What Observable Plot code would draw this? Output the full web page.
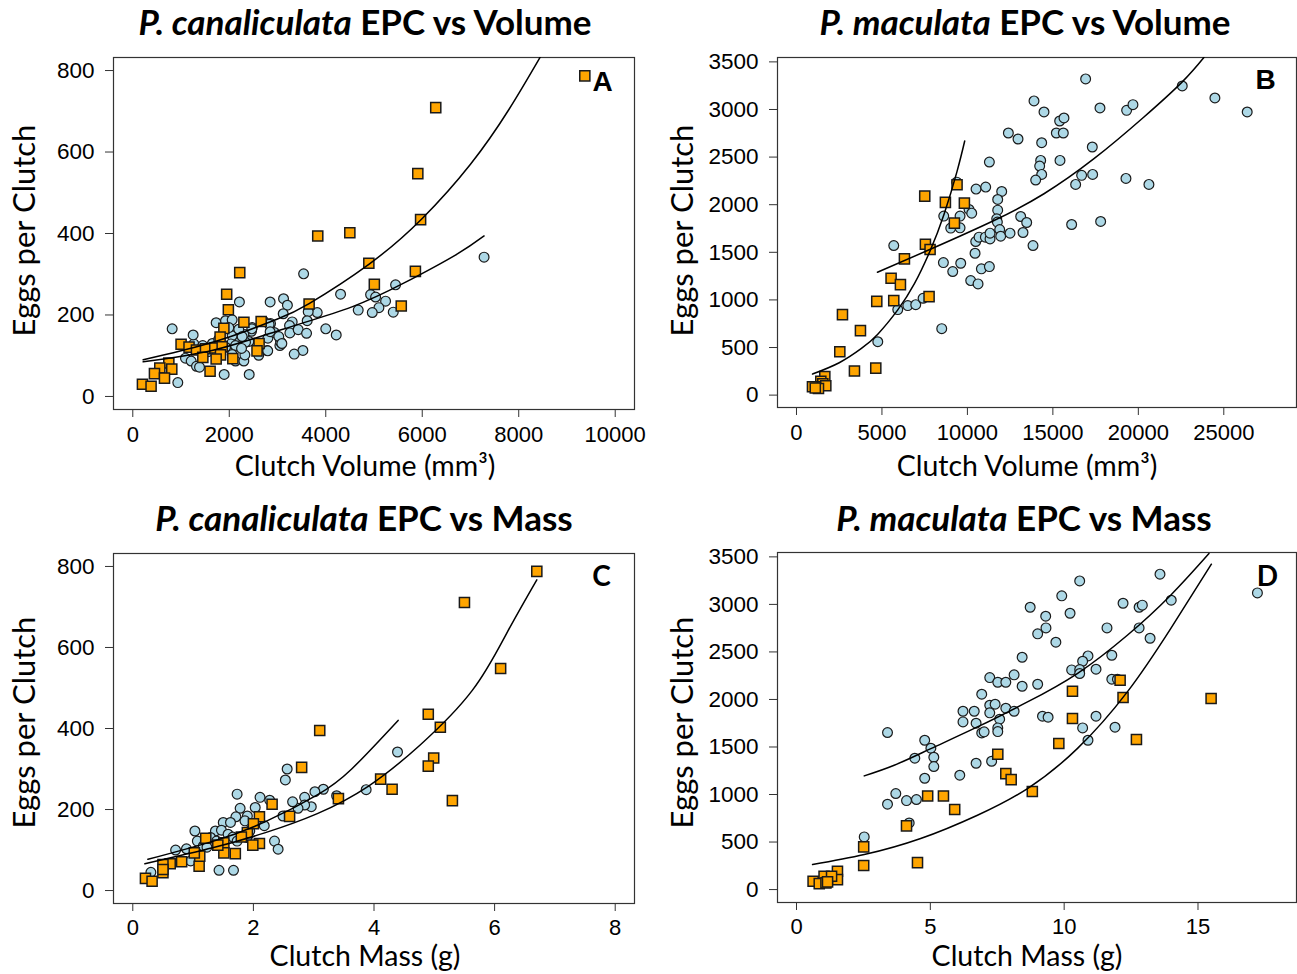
<!DOCTYPE html>
<html><head><meta charset="utf-8">
<script src="https://cdn.jsdelivr.net/npm/d3@7"></script>
<script src="https://cdn.jsdelivr.net/npm/@observablehq/plot@0.6"></script>
<style>
body{margin:0;background:#fff;}
#root{position:relative;width:1297px;height:974px;overflow:hidden;background:#fff;}
.title{position:absolute;font-family:Lato,sans-serif;font-weight:bold;font-size:35px;white-space:nowrap;transform:translateX(-50%);color:#000;line-height:1;}
</style></head><body><div id="root"></div>
<script>
// ---------- Panel A: P. canaliculata, eggs vs clutch volume ----------
const canalVolSquares = [[9370,787],[6280,709],[5908,547],[5966,434],[3834,394],[4499,402],[4893,327],[5858,307],[5007,275],[5565,222],[3655,227],[2217,304],[1946,251],[1981,213],[2303,182],[2661,184],[1888,167],[1810,146],[2618,130],[2575,112],[2074,93],[1602,62],[1001,128],[1166,121],[1320,114],[1507,117],[1700,119],[1853,122],[1452,96],[1818,102],[1728,92],[747,82],[808,67],[560,70],[449,56],[657,45],[200,30],[379,25]];
const canalVolCircles = [[7282,342],[3541,301],[4307,251],[5447,274],[4929,250],[5033,244],[5240,234],[4673,212],[5102,218],[4964,206],[5399,207],[4000,166],[4217,151],[3526,113],[3346,104],[2210,232],[2847,232],[3125,240],[3205,224],[3118,203],[3823,206],[3636,208],[3615,186],[3304,183],[3249,174],[3256,156],[3429,164],[3602,155],[2855,179],[2800,143],[3049,125],[3062,134],[2786,113],[2613,104],[2406,135],[2461,160],[2475,169],[2302,153],[2337,133],[2198,161],[2129,143],[2060,149],[2032,129],[2129,125],[1922,121],[2060,103],[2129,87],[2302,87],[2323,102],[2254,118],[1894,54],[2413,54],[933,34],[1092,94],[1210,87],[1320,74],[1383,72],[1265,129],[1251,151],[816,166],[1728,181],[1922,186],[2060,188],[1991,169],[2718,184],[2826,177],[2933,157],[2847,159],[2196,165],[2468,166],[2267,147],[3026,147],[3090,130],[2611,101],[2797,112],[1560,110],[1650,130],[1780,140],[1450,125]];
const canalVolFitSquares = [[215,90],[1000,112],[2000,146],[3000,190],[3655,228],[4900,325],[6000,437],[7000,570],[7800,705],[8480,840]];
const canalVolFitCircles = [[215,85],[1681,114],[3112,165],[4542,220],[5615,278],[6688,347],[7282,394]];
const volTicksA = [0,2000,4000,6000,8000,10000];
const eggTicksCanal = [0,200,400,600,800];

// ---------- Panel B: P. maculata, eggs vs clutch volume ----------
const macVolSquares = [[9394,2209],[7504,2090],[8712,2024],[9823,2017],[9238,1806],[7543,1585],[7816,1529],[6315,1431],[5535,1227],[6081,1161],[4697,985],[5691,992],[7757,1035],[2690,845],[3742,677],[2534,456],[3391,253],[4639,284],[1657,196],[1423,144],[1540,120],[1189,88],[935,88],[1715,98],[1286,70],[1100,75]];
const macVolCircles = [[16917,3321],[13896,3090],[14481,2974],[17756,3016],[19315,2991],[19685,3051],[22570,3247],[24480,3121],[26370,2974],[15397,2879],[15650,2911],[12396,2753],[12961,2690],[15202,2753],[15611,2753],[14345,2651],[17307,2606],[11285,2448],[14286,2465],[14228,2406],[15417,2465],[14345,2318],[13994,2259],[16683,2308],[16332,2213],[17327,2318],[19276,2276],[20620,2213],[16098,1792],[17795,1824],[10505,2164],[11070,2185],[12006,2139],[11772,2055],[11772,1943],[11714,1852],[11753,1817],[11889,1739],[11947,1669],[12493,1701],[13117,1876],[13468,1813],[13253,1708],[13838,1571],[10096,1950],[10252,1911],[8615,1880],[9570,1880],[9024,1754],[9570,1757],[10486,1613],[10681,1659],[11051,1659],[11324,1641],[11324,1701],[10447,1490],[8595,1392],[9609,1385],[9141,1298],[10817,1326],[11285,1350],[10193,1203],[10622,1168],[5691,1571],[8498,698],[4756,561],[5925,898],[6510,940],[6977,950],[7406,1017],[9375,2237]];
const macVolFitSquares = [[936,221],[2500,340],[3800,490],[4756,640],[5925,895],[6900,1170],[7816,1515],[8634,1900],[9394,2350],[9842,2669]];
const macVolFitCircles = [[4736,1290],[7796,1529],[11557,1834],[14481,2115],[17405,2483],[20329,2921],[22570,3290],[23836,3546]];
const volTicksB = [0,5000,10000,15000,20000,25000];
const eggTicksMac = [0,500,1000,1500,2000,2500,3000,3500];

// ---------- Panel C: P. canaliculata, eggs vs clutch mass ----------
const canalMassSquares = [[6.70,788],[5.50,711],[6.10,548],[4.90,435],[5.10,403],[3.10,395],[4.99,327],[4.90,307],[2.80,304],[4.11,275],[4.30,250],[5.30,222],[3.41,227],[2.31,213],[2.60,183],[2.10,182],[1.90,143],[2.00,165],[2.10,116],[1.99,112],[1.80,132],[1.70,91],[1.51,118],[1.51,93],[1.41,112],[1.21,129],[1.10,60],[1.11,85],[1.02,93],[0.81,71],[0.62,66],[0.50,64],[0.50,44],[0.50,52],[0.21,30],[0.32,23]];
const canalMassCircles = [[4.39,342],[3.87,249],[3.38,234],[3.16,250],[3.02,244],[2.85,230],[2.96,207],[2.85,211],[2.74,203],[2.65,219],[2.49,184],[2.56,300],[2.53,273],[2.35,122],[2.41,102],[2.27,223],[2.11,230],[1.73,238],[1.78,203],[2.03,205],[1.90,184],[1.71,182],[1.50,168],[1.62,168],[2.18,160],[1.86,172],[1.37,147],[1.47,149],[1.03,147],[1.07,122],[1.17,110],[1.29,131],[1.58,139],[1.66,132],[0.89,103],[0.71,100],[0.96,73],[1.43,50],[1.67,50],[0.30,45],[1.94,147],[1.73,122],[1.89,131],[1.39,122],[1.23,107],[1.51,106]];
const canalMassFitSquares = [[0.20,66],[1.34,106],[2.20,143],[3.06,190],[3.91,258],[4.77,360],[5.63,494],[6.20,635],[6.70,767]];
const canalMassFitCircles = [[0.25,77],[1.34,122],[2.20,170],[3.06,236],[3.63,300],[4.40,420]];
const massTicksC = [0,2,4,6,8];

// ---------- Panel D: P. maculata, eggs vs clutch mass ----------
const macMassSquares = [[15.49,2010],[12.09,2202],[12.20,2020],[10.31,2087],[10.31,1799],[12.70,1578],[9.80,1536],[7.52,1424],[7.82,1220],[8.02,1157],[8.81,1031],[4.90,985],[5.49,985],[5.91,842],[4.11,670],[2.51,449],[2.51,253],[4.52,284],[0.62,88],[1.03,140],[1.53,193],[1.53,105],[0.85,63],[1.10,70],[1.31,140],[1.16,81]];
const macMassCircles = [[17.22,3121],[13.58,3318],[10.58,3247],[9.91,3090],[8.73,2970],[10.22,2907],[9.31,2876],[9.32,2753],[9.01,2690],[9.69,2602],[12.20,3012],[12.80,2970],[12.92,2992],[14.00,3044],[11.60,2753],[12.80,2753],[13.21,2644],[8.43,2444],[10.89,2458],[10.69,2402],[11.78,2465],[10.28,2311],[10.58,2315],[10.58,2273],[11.19,2318],[11.78,2213],[11.99,2213],[7.22,2230],[7.52,2181],[7.82,2181],[8.13,2259],[8.43,2139],[9.01,2160],[6.92,2055],[7.22,1939],[7.42,1950],[7.22,1859],[7.82,1908],[8.13,1876],[7.59,1792],[6.22,1876],[6.64,1876],[6.22,1764],[6.71,1750],[6.92,1648],[7.01,1659],[7.52,1701],[7.52,1662],[9.19,1824],[9.40,1813],[11.19,1824],[10.69,1701],[10.89,1571],[11.90,1708],[3.40,1652],[4.79,1571],[5.02,1487],[5.13,1392],[4.42,1382],[5.13,1294],[6.71,1329],[7.29,1350],[4.79,1171],[6.10,1203],[3.71,1010],[3.40,898],[4.11,936],[4.48,947],[4.21,701],[2.53,554]];
const macMassFitSquares = [[0.60,263],[2.53,368],[4.64,537],[6.76,782],[8.63,1063],[10.49,1483],[12.36,2080],[13.98,2746],[15.50,3423]];
const macMassFitCircles = [[2.53,1196],[3.65,1308],[5.02,1483],[6.76,1711],[8.63,1974],[10.49,2273],[12.36,2676],[13.98,3097],[15.41,3535]];
const massTicksD = [0,5,10,15];

const titles = [
  {sp: "P. canaliculata", rest: " EPC vs Volume", cx: 365, top: 4},
  {sp: "P. maculata", rest: " EPC vs Volume", cx: 1025, top: 4},
  {sp: "P. canaliculata", rest: " EPC vs Mass", cx: 364, top: 500},
  {sp: "P. maculata", rest: " EPC vs Mass", cx: 1024, top: 500}
];

const root = document.getElementById("root");
for (const t of titles) {
  const d = document.createElement("div");
  d.className = "title";
  d.style.left = t.cx + "px";
  d.style.top = t.top + "px";
  const i = document.createElement("i"); i.textContent = t.sp;
  d.appendChild(i);
  d.appendChild(document.createTextNode(t.rest));
  root.appendChild(d);
}

const BLUE = "#ADD8E6", ORANGE = "#FFA500", INK = "#1a1a1a";
const TICKFONT = "'Liberation Sans', Arial, sans-serif";
const LABELFONT = "Lato, 'Open Sans', sans-serif";

function panel(o) {
  const f = o.frame;
  const svg = Plot.plot({
    width: o.width, height: o.height,
    marginLeft: f.l - o.left, marginRight: o.left + o.width - f.r,
    marginTop: f.t - o.top, marginBottom: o.top + o.height - f.b,
    x: {domain: o.xDomain}, y: {domain: o.yDomain},
    style: {background: "white", overflow: "visible", fontFamily: TICKFONT},
    marks: [
      Plot.frame({stroke: "#333", strokeWidth: 1.2}),
      Plot.axisX(o.xTicks, {tickSize: 8, tickPadding: o.xTickPad, fontSize: 22, fontFamily: TICKFONT, tickFormat: d => String(d), label: null, stroke: "#333"}),
      Plot.axisY(o.yTicks, {tickSize: 8, tickPadding: 11, fontSize: 22.5, fontFamily: TICKFONT, tickFormat: d => String(d), label: null, stroke: "#333"}),
      Plot.dot(o.circles, {x: d => d[0], y: d => d[1], r: 4.9, fill: BLUE, stroke: INK, strokeWidth: 1.2}),
      Plot.dot(o.squares, {x: d => d[0], y: d => d[1], symbol: "square", r: 5.7, fill: ORANGE, stroke: INK, strokeWidth: 1.5}),
      Plot.line(o.fitS, {x: d => d[0], y: d => d[1], curve: "natural", stroke: "#000", strokeWidth: 1.5, clip: true}),
      Plot.line(o.fitC, {x: d => d[0], y: d => d[1], curve: "natural", stroke: "#000", strokeWidth: 1.5, clip: true}),
      Plot.text([o.letter], {text: d => d, frameAnchor: "top-right", dx: o.letterDx, dy: o.letterDy, textAnchor: "middle", lineAnchor: "middle", fontWeight: "bold", fontSize: 28, fontFamily: o.letterFont}),
      Plot.text(["Eggs per Clutch"], {text: d => d, frameAnchor: "left", rotate: -90, dx: o.yLabelDx, dy: o.yLabelDy, textAnchor: "middle", lineAnchor: "middle", fontSize: 31, fontFamily: LABELFONT}),
      Plot.text([o.xLabel], {text: d => d, frameAnchor: "bottom", dx: o.xLabelDx, dy: o.xLabelDy, textAnchor: "middle", lineAnchor: "middle", fontSize: 28.5, fontFamily: LABELFONT})
    ]
  });
  svg.style.position = "absolute";
  svg.style.left = o.left + "px";
  svg.style.top = o.top + "px";
  root.appendChild(svg);
}

panel({left: 0, top: 40, width: 650, height: 445, frame: {l: 113, r: 634, t: 57, b: 409},
  xDomain: [-400, 10400], yDomain: [-32, 832], xTicks: volTicksA, yTicks: eggTicksCanal, xTickPad: 9,
  circles: canalVolCircles, squares: canalVolSquares, fitC: canalVolFitCircles, fitS: canalVolFitSquares,
  letter: "A", letterFont: TICKFONT, letterDx: -32, letterDy: 25,
  xLabel: "Clutch Volume (mm³)", xLabelDx: -9, xLabelDy: 57, yLabelDx: -88, yLabelDy: -3});

panel({left: 650, top: 40, width: 647, height: 445, frame: {l: 777, r: 1296, t: 57, b: 407},
  xDomain: [-1111, 29254], yDomain: [-130, 3546], xTicks: volTicksB, yTicks: eggTicksMac, xTickPad: 9,
  circles: macVolCircles, squares: macVolSquares, fitC: macVolFitCircles, fitS: macVolFitSquares,
  letter: "B", letterFont: TICKFONT, letterDx: -31, letterDy: 23,
  xLabel: "Clutch Volume (mm³)", xLabelDx: -10, xLabelDy: 59, yLabelDx: -94, yLabelDy: -2});

panel({left: 0, top: 535, width: 650, height: 439, frame: {l: 113, r: 634, t: 553, b: 903},
  xDomain: [-0.32, 8.32], yDomain: [-32, 832], xTicks: massTicksC, yTicks: eggTicksCanal, xTickPad: 8,
  circles: canalMassCircles, squares: canalMassSquares, fitC: canalMassFitCircles, fitS: canalMassFitSquares,
  letter: "C", letterFont: LABELFONT, letterDx: -33, letterDy: 24,
  xLabel: "Clutch Mass (g)", xLabelDx: -9, xLabelDy: 53, yLabelDx: -88, yLabelDy: -6});

panel({left: 650, top: 535, width: 647, height: 439, frame: {l: 777, r: 1296, t: 552, b: 902},
  xDomain: [-0.71, 18.68], yDomain: [-136, 3546], xTicks: massTicksD, yTicks: eggTicksMac, xTickPad: 8,
  circles: macMassCircles, squares: macMassSquares, fitC: macMassFitCircles, fitS: macMassFitSquares,
  letter: "D", letterFont: LABELFONT, letterDx: -29, letterDy: 25,
  xLabel: "Clutch Mass (g)", xLabelDx: -10, xLabelDy: 54, yLabelDx: -94, yLabelDy: -5});
</script></body></html>
